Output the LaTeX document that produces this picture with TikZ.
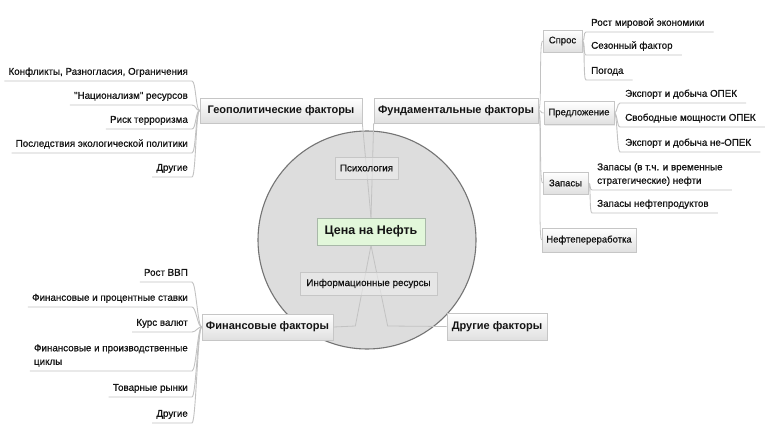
\documentclass[tikz,border=0pt]{standalone}
\usepackage{fontspec}
\setmainfont{Liberation Sans}
\newfontfamily\heavyfont{Liberation Sans}[FakeBold=0.7]
\usetikzlibrary{calc,shadows}
\definecolor{circfill}{HTML}{DDDDDD}
\definecolor{circline}{HTML}{747474}
\definecolor{boxline}{HTML}{C6C6C6}
\definecolor{boxbot}{HTML}{E0E0E0}
\definecolor{linegray}{HTML}{C2C2C2}
\definecolor{greenfill}{HTML}{E2F7DA}
\definecolor{greenline}{HTML}{A8B8A8}
\definecolor{txt}{HTML}{141414}
\tikzset{
  bigbox/.style={draw=boxline, top color=white, bottom color=boxbot, line width=0.7pt,
    inner sep=0pt, text=txt, font=\bfseries\fontsize{11}{13}\selectfont,
    drop shadow={opacity=0.15, shadow xshift=1pt, shadow yshift=-1pt}},
  smallbox/.style={draw=boxline, top color=white, bottom color=boxbot, line width=0.6pt,
    inner sep=0pt, text=txt, font=\heavyfont\fontsize{9.5}{11}\selectfont,
    drop shadow={opacity=0.15, shadow xshift=1pt, shadow yshift=-1pt}},
  innerbox/.style={draw=boxline, fill=gray!14, fill opacity=0.6, text opacity=1,
    line width=0.6pt, inner sep=0pt, text=txt, font=\heavyfont\fontsize{9.8}{11}\selectfont},
  centerbox/.style={draw=greenline, fill=greenfill, line width=0.7pt, inner sep=0pt,
    text=txt, font=\bfseries\fontsize{12.5}{14}\selectfont},
  leafL/.style={anchor=south east, inner xsep=4pt, inner ysep=2pt, align=right,
    text=txt, font=\heavyfont\fontsize{9.8}{13.5}\selectfont},
  leafR/.style={anchor=south west, inner xsep=5pt, inner ysep=2pt, align=left,
    text=txt, font=\heavyfont\fontsize{9.8}{13.5}\selectfont},
  conn/.style={draw=linegray, line width=0.8pt},
  uline/.style={draw=linegray, line width=0.9pt},
}
\begin{document}
\begin{tikzpicture}[x=1pt,y=-1pt]
\useasboundingbox (0,0) rectangle (770,431);
\fill[white] (0,0) rectangle (770,431);

% circle
\draw[circline, fill=circfill, line width=1.1pt] (367,240) circle[radius=109];

\coordinate (mc) at (371,231.5);

\node[bigbox, minimum width=162, minimum height=25] (geo) at (281,110.5) {Геополитические факторы};
\node[bigbox, minimum width=164, minimum height=25] (fund) at (456,110.5) {Фундаментальные факторы};
\node[bigbox, minimum width=131, minimum height=26] (fin) at (267.5,327) {Финансовые факторы};
\node[bigbox, minimum width=100, minimum height=27] (oth) at (497,326.5) {Другие факторы};

\path (mc) node[centerbox, minimum width=108, minimum height=27, opacity=0] (mainghost) {Цена на Нефть};
\draw[conn] (mainghost.north) -- (geo.south east);
\draw[conn] (mainghost.north) -- (fund.south west);
\draw[conn] (mainghost.south) -- ($(fin.east)+(22,-1)$) -- (fin.east);
\draw[conn] (mainghost.south) -- ($(oth.west)+(-59,-0.5)$) -- (oth.west);

\node[innerbox, minimum width=63, minimum height=22] (psy) at (366.5,168) {Психология};
\node[innerbox, minimum width=137, minimum height=23] (info) at (368.5,283.5) {Информационные ресурсы};
\node[centerbox, minimum width=108, minimum height=27] (main) at (mc) {Цена на Нефть};

% ---------- Geopolitical leaves ----------
\node[leafL] (g1) at (192,81) {Конфликты, Разногласия, Ограничения\strut};
\node[leafL] (g2) at (192,105) {\textquotedbl Национализм\textquotedbl{} ресурсов\strut};
\node[leafL] (g3) at (192,129) {Риск терроризма\strut};
\node[leafL] (g4) at (192,153) {Последствия экологической политики\strut};
\node[leafL] (g5) at (192,177) {Другие\strut};
\foreach \n in {g1,g2,g3,g4,g5}{
  \draw[uline] (\n.south west) -- (\n.south east) .. controls +(4,0) and +(-4,0) .. (geo.west);
}

% ---------- Financial leaves ----------
\node[leafL] (f1) at (192,282) {Рост ВВП\strut};
\node[leafL] (f2) at (192,307) {Финансовые и процентные ставки\strut};
\node[leafL] (f3) at (192,332) {Курс валют\strut};
\node[leafL, align=left] (f4) at (192,371) {Финансовые и производственные\\циклы\strut};
\node[leafL] (f5) at (192,397) {Товарные рынки\strut};
\node[leafL] (f6) at (192,423) {Другие\strut};
\foreach \n in {f1,f2,f3,f4,f5,f6}{
  \draw[uline] (\n.south west) -- (\n.south east) .. controls +(4,0) and +(-4,0) .. (fin.west);
}

% ---------- Fundamental sub-nodes ----------
\node[smallbox, minimum width=39, minimum height=22] (spros) at (562.5,41) {Спрос};
\node[smallbox, minimum width=70, minimum height=23] (pred) at (579,113) {Предложение};
\node[smallbox, minimum width=45, minimum height=22] (zap) at (565.5,183) {Запасы};
\node[smallbox, minimum width=94, minimum height=24] (neft) at (589,240) {Нефтепереработка};
\foreach \n in {spros,pred,zap,neft}{
  \draw[conn] (fund.east) .. controls +(4,0) and +(-4,0) .. (\n.west);
}

% Спрос leaves
\node[leafR] (s1) at (586,32) {Рост мировой экономики\strut};
\node[leafR] (s2) at (586,55) {Сезонный фактор\strut};
\node[leafR] (s3) at (586,80) {Погода\strut};
\foreach \n in {s1,s2,s3}{
  \draw[uline] ($(\n.south east)+(4,0)$) -- (\n.south west) .. controls +(-3,0) and +(3,0) .. (spros.east);
}

% Предложение leaves
\node[leafR] (p1) at (620,103) {Экспорт и добыча ОПЕК\strut};
\node[leafR] (p2) at (620,127) {Свободные мощности ОПЕК\strut};
\node[leafR] (p3) at (620,152) {Экспорт и добыча не-ОПЕК\strut};
\foreach \n in {p1,p2,p3}{
  \draw[uline] ($(\n.south east)+(4,0)$) -- (\n.south west) .. controls +(-3,0) and +(3,0) .. (pred.east);
}

% Запасы leaves
\node[leafR] (z1) at (592,190) {Запасы (в т.ч. и временные\\стратегические) нефти\strut};
\node[leafR] (z2) at (592,213) {Запасы нефтепродуктов\strut};
\foreach \n in {z1,z2}{
  \draw[uline] ($(\n.south east)+(4,0)$) -- (\n.south west) .. controls +(-3,0) and +(3,0) .. (zap.east);
}
\end{tikzpicture}
\end{document}
